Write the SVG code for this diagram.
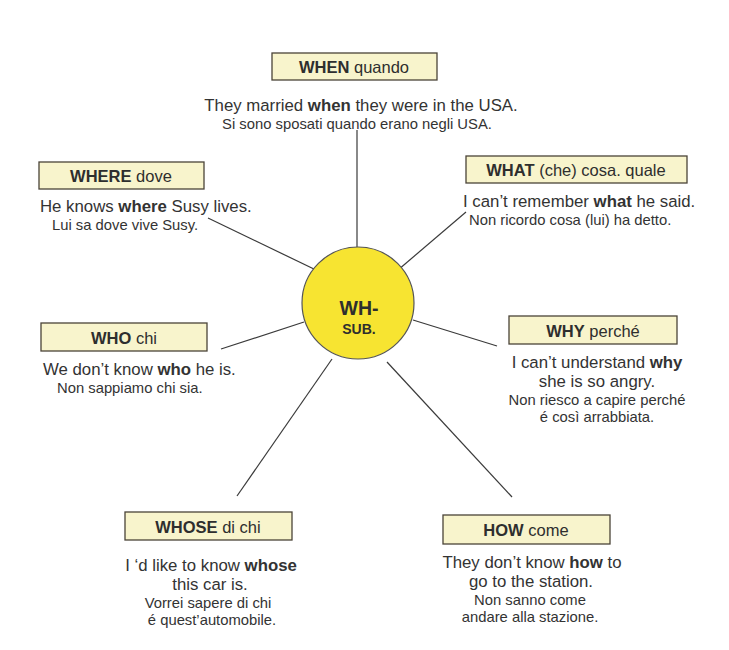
<svg xmlns="http://www.w3.org/2000/svg" width="729" height="650" viewBox="0 0 729 650">
<style>
.box{fill:#f8f4cc;stroke:#4a4438;stroke-width:1.3}
.lbl{font-family:"Liberation Sans",Arial,sans-serif;font-size:16.5px;fill:#2e2e2e;text-anchor:middle}
.en{font-family:"Liberation Sans",Arial,sans-serif;font-size:16.8px;fill:#333}
.it{font-family:"Liberation Sans",Arial,sans-serif;font-size:14.8px;fill:#333}
.c{text-anchor:middle}
.b{font-weight:bold}
.ln{stroke:#3a3a3a;stroke-width:1.2;fill:none}
.wh{font-family:"Liberation Sans",Arial,sans-serif;font-weight:bold;fill:#2e2e2e;text-anchor:middle}
</style>
<rect width="729" height="650" fill="#ffffff"/>
<g id="connectors">
<line class="ln" x1="357" y1="130" x2="357" y2="247"/>
<line class="ln" x1="208" y1="218" x2="316" y2="270"/>
<line class="ln" x1="466" y1="212" x2="398" y2="270"/>
<line class="ln" x1="221" y1="349" x2="304" y2="322"/>
<line class="ln" x1="413" y1="320" x2="497" y2="346"/>
<line class="ln" x1="332" y1="359" x2="237" y2="496"/>
<line class="ln" x1="387" y1="362" x2="512" y2="497"/>
</g>
<g id="center">
<circle cx="358" cy="303" r="56" fill="#f7e431" stroke="#555" stroke-width="1.2"/>
<text class="wh" x="359" y="315" style="font-size:19.5px">WH-</text>
<text class="wh" x="359" y="334" style="font-size:14px">SUB.</text>
</g>
<g id="when">
<rect class="box" x="272" y="53" width="165" height="27"/>
<text class="lbl" x="354" y="73"><tspan class="b">WHEN</tspan> quando</text>
<text class="en c" x="361" y="111">They married <tspan class="b">when</tspan> they were in the USA.</text>
<text class="it c" x="357" y="129">Si sono sposati quando erano negli USA.</text>
</g>
<g id="where">
<rect class="box" x="39" y="162" width="165" height="27"/>
<text class="lbl" x="121" y="182"><tspan class="b">WHERE</tspan> dove</text>
<text class="en" x="40" y="212">He knows <tspan class="b">where</tspan> Susy lives.</text>
<text class="it" x="52" y="230">Lui sa dove vive Susy.</text>
</g>
<g id="what">
<rect class="box" x="466" y="156" width="221" height="27"/>
<text class="lbl" x="576" y="176"><tspan class="b">WHAT</tspan> (che) cosa. quale</text>
<text class="en" x="463" y="207">I can’t remember <tspan class="b">what</tspan> he said.</text>
<text class="it" x="469" y="225">Non ricordo cosa (lui) ha detto.</text>
</g>
<g id="who">
<rect class="box" x="41" y="323" width="166" height="28"/>
<text class="lbl" x="124" y="344"><tspan class="b">WHO</tspan> chi</text>
<text class="en" x="43" y="375">We don’t know <tspan class="b">who</tspan> he is.</text>
<text class="it" x="57" y="393">Non sappiamo chi sia.</text>
</g>
<g id="why">
<rect class="box" x="509" y="316" width="168" height="28"/>
<text class="lbl" x="593" y="337"><tspan class="b">WHY</tspan> perché</text>
<text class="en c" x="597" y="368">I can’t understand <tspan class="b">why</tspan></text>
<text class="en c" x="597" y="387">she is so angry.</text>
<text class="it c" x="597" y="405">Non  riesco a capire perché</text>
<text class="it c" x="597" y="422">é così arrabbiata.</text>
</g>
<g id="whose">
<rect class="box" x="125" y="512" width="167" height="28"/>
<text class="lbl" x="208" y="533"><tspan class="b">WHOSE</tspan> di chi</text>
<text class="en c" x="211" y="571">I ‘d like to know <tspan class="b">whose</tspan></text>
<text class="en c" x="210" y="590">this car is.</text>
<text class="it c" x="208" y="608">Vorrei sapere di chi</text>
<text class="it c" x="212" y="625">é quest’automobile.</text>
</g>
<g id="how">
<rect class="box" x="443" y="515" width="167" height="29"/>
<text class="lbl" x="526" y="536"><tspan class="b">HOW</tspan> come</text>
<text class="en c" x="532" y="568">They don’t know <tspan class="b">how</tspan> to</text>
<text class="en c" x="531" y="587">go to the station.</text>
<text class="it c" x="530" y="605">Non sanno come</text>
<text class="it c" x="530" y="622">andare alla stazione.</text>
</g>
</svg>
